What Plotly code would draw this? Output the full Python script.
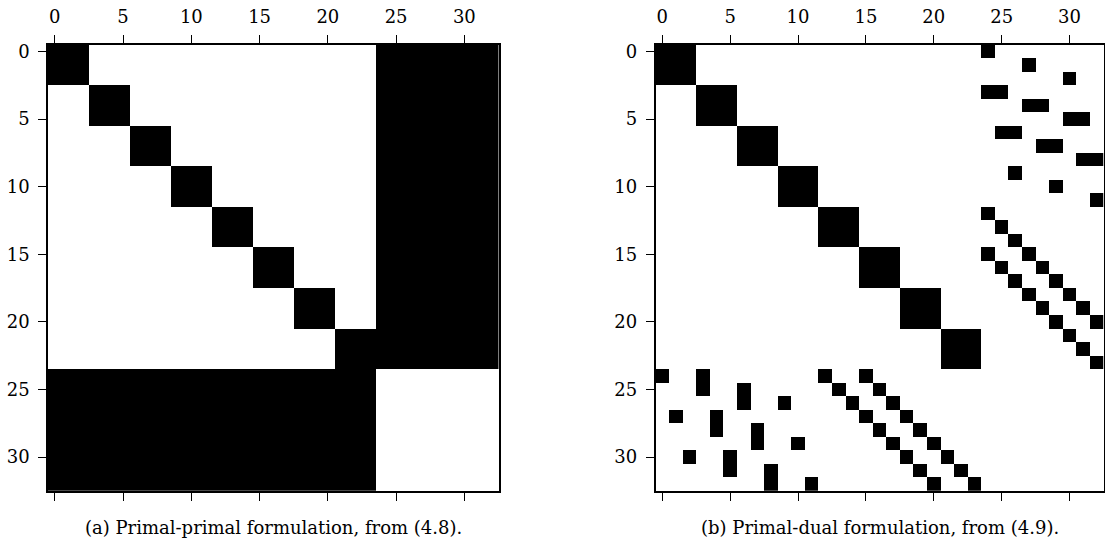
import numpy as np
import plotly.graph_objects as go

# ---- data ----
n_total = 33
n_primal = 24
block_size = 3
block_starts = [0, 3, 6, 9, 12, 15, 18, 21]

# nonzeros of the upper-right coupling block (rows 0-23, cols 24-32) of the primal-dual matrix
coupling_rows = [0, 1, 2, 3, 3, 4, 4, 5, 5, 6, 6, 7, 7, 8, 8, 9, 10, 11,
                 12, 13, 14, 15, 15, 16, 16, 17, 17, 18, 18, 19, 19, 20, 20, 21, 22, 23]
coupling_cols = [24, 27, 30, 24, 25, 27, 28, 30, 31, 25, 26, 28, 29, 31, 32, 26, 29, 32,
                 24, 25, 26, 24, 27, 25, 28, 26, 29, 27, 30, 28, 31, 29, 32, 30, 31, 32]

tick_vals = [0, 5, 10, 15, 20, 25, 30]
tick_text = ["0", "5", "10", "15", "20", "25", "30"]
captions = ["(a) Primal-primal formulation, from (4.8).",
            "(b) Primal-dual formulation, from (4.9)."]

# ---- build matrices ----
A = np.zeros((n_total, n_total))
B = np.zeros((n_total, n_total))
for s in block_starts:
    A[s:s + block_size, s:s + block_size] = 1
    B[s:s + block_size, s:s + block_size] = 1
A[:n_primal, n_primal:] = 1
A[n_primal:, :n_primal] = 1
for r, c in zip(coupling_rows, coupling_cols):
    B[r, c] = 1
    B[c, r] = 1

W, H = 1105, 542
fig = go.Figure()

doms_x = [(48 / W, 498.5 / W), (655.5 / W, 1103.5 / W)]
dom_y = (1 - 490.5 / H, 1 - 41 / H)
font_family = "DejaVu Serif"
axis_ids = [("x", "y"), ("x2", "y2")]

for i, (M, (xa, ya)) in enumerate(zip([A, B], axis_ids)):
    fig.add_trace(go.Heatmap(
        z=M, x=list(range(n_total)), y=list(range(n_total)),
        colorscale=[[0, "white"], [1, "black"]], zmin=0, zmax=1,
        showscale=False, hoverinfo="skip", xaxis=xa, yaxis=ya))

axis_common = dict(
    showgrid=False, zeroline=False, showline=True, linecolor="black", linewidth=1.6,
    ticks="outside", ticklen=8, tickwidth=1.4, tickcolor="black",
    tickvals=tick_vals, ticktext=tick_text, range=[-0.5, n_total - 0.5],
    tickfont=dict(family=font_family, size=18, color="black"),
    ticklabelstandoff=5,
)

layout = dict(
    width=W, height=H, margin=dict(l=0, r=0, t=0, b=0),
    paper_bgcolor="white", plot_bgcolor="white", showlegend=False,
)
for i, (xa, ya) in enumerate(axis_ids):
    xk = "xaxis" if i == 0 else "xaxis2"
    yk = "yaxis" if i == 0 else "yaxis2"
    layout[xk] = dict(axis_common, domain=doms_x[i], side="top", mirror="ticks",
                      anchor=ya)
    layout[yk] = dict(axis_common, domain=dom_y, mirror=True, anchor=xa,
                      range=[n_total - 0.5, -0.5])

fig.update_layout(**layout)

for i, cap in enumerate(captions):
    fig.add_annotation(text=cap, xref="paper", yref="paper",
                       x=(doms_x[i][0] + doms_x[i][1]) / 2, y=1 - 527 / H,
                       xanchor="center", yanchor="middle", showarrow=False,
                       font=dict(family=font_family, size=18, color="black"))

fig.write_html("out.html")
